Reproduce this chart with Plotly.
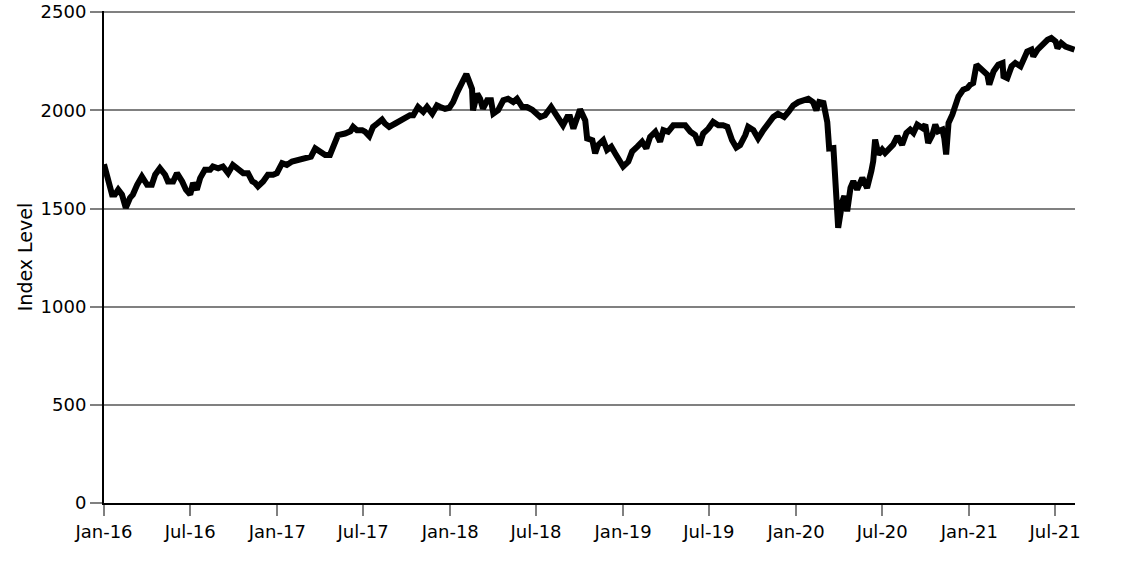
import plotly.graph_objects as go

dates = [
    "2016-01-01", "2016-01-09", "2016-01-18", "2016-01-24", "2016-01-31", "2016-02-08", "2016-02-16", "2016-02-25",
    "2016-03-02", "2016-03-11", "2016-03-21", "2016-04-01", "2016-04-11", "2016-04-18", "2016-04-28", "2016-05-09",
    "2016-05-15", "2016-05-26", "2016-06-03", "2016-06-14", "2016-06-22", "2016-07-01", "2016-07-07", "2016-07-15",
    "2016-07-22", "2016-08-01", "2016-08-12", "2016-08-18", "2016-08-29", "2016-09-08", "2016-09-19", "2016-09-29",
    "2016-10-10", "2016-10-21", "2016-10-31", "2016-11-09", "2016-11-15", "2016-11-21", "2016-12-02", "2016-12-12",
    "2016-12-23", "2016-12-31", "2017-01-11", "2017-01-21", "2017-02-01", "2017-02-12", "2017-02-22", "2017-03-05",
    "2017-03-13", "2017-03-22", "2017-04-01", "2017-04-12", "2017-04-22", "2017-04-29", "2017-05-09", "2017-05-24",
    "2017-06-04", "2017-06-10", "2017-06-18", "2017-06-29", "2017-07-05", "2017-07-14", "2017-07-22", "2017-07-31",
    "2017-08-10", "2017-08-16", "2017-08-25", "2017-09-07", "2017-09-17", "2017-09-28", "2017-10-08", "2017-10-15",
    "2017-10-25", "2017-11-05", "2017-11-13", "2017-11-24", "2017-12-04", "2017-12-11", "2017-12-21", "2017-12-30",
    "2018-01-07", "2018-01-16", "2018-01-26", "2018-02-04", "2018-02-08", "2018-02-16", "2018-02-18", "2018-02-27",
    "2018-03-05", "2018-03-11", "2018-03-20", "2018-03-28", "2018-04-02", "2018-04-12", "2018-04-23", "2018-05-03",
    "2018-05-14", "2018-05-22", "2018-06-02", "2018-06-12", "2018-06-23", "2018-07-03", "2018-07-10", "2018-07-20",
    "2018-08-02", "2018-08-11", "2018-08-19", "2018-08-27", "2018-09-05", "2018-09-11", "2018-09-18", "2018-09-26",
    "2018-10-02", "2018-10-13", "2018-10-17", "2018-10-28", "2018-11-03", "2018-11-09", "2018-11-20", "2018-11-28",
    "2018-12-07", "2018-12-15", "2018-12-24", "2019-01-01", "2019-01-12", "2019-01-20", "2019-01-31", "2019-02-10",
    "2019-02-19", "2019-02-27", "2019-03-10", "2019-03-20", "2019-03-27", "2019-04-06", "2019-04-17", "2019-04-27",
    "2019-05-12", "2019-05-23", "2019-06-02", "2019-06-11", "2019-06-19", "2019-06-30", "2019-07-10", "2019-07-21",
    "2019-07-31", "2019-08-09", "2019-08-19", "2019-08-28", "2019-09-05", "2019-09-16", "2019-09-22", "2019-10-03",
    "2019-10-13", "2019-10-24", "2019-11-03", "2019-11-14", "2019-11-24", "2019-12-07", "2019-12-16", "2019-12-26",
    "2020-01-06", "2020-01-16", "2020-01-27", "2020-02-06", "2020-02-13", "2020-02-19", "2020-02-28", "2020-03-07",
    "2020-03-11", "2020-03-20", "2020-03-24", "2020-03-30", "2020-04-08", "2020-04-12", "2020-04-18", "2020-04-25",
    "2020-05-01", "2020-05-09", "2020-05-20", "2020-05-30", "2020-06-08", "2020-06-12", "2020-06-16", "2020-06-23",
    "2020-07-01", "2020-07-07", "2020-07-14", "2020-07-24", "2020-08-02", "2020-08-12", "2020-08-21", "2020-08-29",
    "2020-09-05", "2020-09-13", "2020-09-24", "2020-09-30", "2020-10-06", "2020-10-15", "2020-10-21", "2020-10-27",
    "2020-11-05", "2020-11-09", "2020-11-13", "2020-11-18", "2020-11-26", "2020-12-02", "2020-12-09", "2020-12-19",
    "2020-12-28", "2021-01-03", "2021-01-09", "2021-01-16", "2021-01-20", "2021-01-30", "2021-02-08", "2021-02-12",
    "2021-02-21", "2021-03-03", "2021-03-12", "2021-03-14", "2021-03-22", "2021-03-31", "2021-04-08", "2021-04-19",
    "2021-04-25", "2021-05-03", "2021-05-12", "2021-05-16", "2021-05-25", "2021-06-04", "2021-06-15", "2021-06-23",
    "2021-07-02", "2021-07-06", "2021-07-14", "2021-07-23", "2021-08-02", "2021-08-11",
]

index_level = [
    1725, 1646, 1571, 1571, 1596, 1571, 1503, 1554,
    1571, 1621, 1663, 1621, 1621, 1672, 1705, 1672,
    1638, 1638, 1680, 1638, 1596, 1571, 1630, 1596,
    1655, 1697, 1697, 1714, 1705, 1714, 1680, 1722,
    1697, 1680, 1680, 1638, 1630, 1613, 1638, 1672,
    1672, 1680, 1731, 1722, 1739, 1747, 1751, 1756,
    1764, 1806, 1790, 1773, 1773, 1815, 1874, 1882,
    1893, 1916, 1899, 1899, 1891, 1869, 1916, 1933,
    1953, 1933, 1916, 1933, 1949, 1963, 1975, 1975,
    2017, 1992, 2017, 1983, 2025, 2017, 2008, 2013,
    2042, 2093, 2135, 2185, 2160, 2109, 2000, 2084,
    2059, 2008, 2051, 2051, 1983, 2000, 2051, 2059,
    2042, 2059, 2017, 2017, 2003, 1975, 1966, 1975,
    2017, 1983, 1949, 1924, 1966, 1966, 1907, 1975,
    2005, 1949, 1857, 1848, 1781, 1823, 1848, 1798,
    1815, 1781, 1747, 1714, 1739, 1790, 1815, 1840,
    1806, 1865, 1891, 1840, 1899, 1891, 1924, 1924,
    1924, 1891, 1874, 1823, 1882, 1907, 1941, 1924,
    1924, 1916, 1848, 1811, 1823, 1874, 1916, 1899,
    1857, 1899, 1933, 1966, 1983, 1966, 1992, 2025,
    2042, 2047, 2059, 2042, 2000, 2042, 2037, 1940,
    1806, 1808, 1622, 1402, 1537, 1563, 1486, 1605,
    1639, 1597, 1656, 1605, 1690, 1741, 1851, 1775,
    1800, 1783, 1800, 1825, 1868, 1825, 1885, 1902,
    1885, 1927, 1910, 1927, 1834, 1876, 1927, 1893,
    1902, 1859, 1775, 1936, 1978, 2029, 2071, 2105,
    2114, 2131, 2139, 2232, 2224, 2198, 2181, 2131,
    2198, 2232, 2241, 2173, 2164, 2224, 2241, 2224,
    2258, 2300, 2309, 2275, 2309, 2334, 2359, 2368,
    2351, 2317, 2343, 2325, 2317, 2309,
]

tick_dates = ["2016-01-01", "2016-07-01", "2017-01-01", "2017-07-01", "2018-01-01", "2018-07-01",
              "2019-01-01", "2019-07-01", "2020-01-01", "2020-07-01", "2021-01-01", "2021-07-01"]
tick_labels = ["Jan-16", "Jul-16", "Jan-17", "Jul-17", "Jan-18", "Jul-18",
               "Jan-19", "Jul-19", "Jan-20", "Jul-20", "Jan-21", "Jul-21"]
y_ticks = [0, 500, 1000, 1500, 2000, 2500]

fig = go.Figure()
fig.add_trace(go.Scatter(
    x=dates, y=index_level, mode="lines",
    line=dict(color="black", width=6),
    showlegend=False, hoverinfo="x+y",
))

font = dict(family="DejaVu Sans", size=18, color="black")
title_font = dict(family="DejaVu Sans", size=19, color="black")
fig.update_layout(
    width=1146, height=575,
    margin=dict(l=104, r=71, t=11, b=72),
    paper_bgcolor="white", plot_bgcolor="white",
    font=font,
    xaxis=dict(
        type="date",
        range=["2016-01-01", "2021-08-12"],
        tickmode="array", tickvals=tick_dates, ticktext=tick_labels,
        ticks="outside", ticklen=11, tickwidth=2, tickcolor="#808080",
        showline=True, linecolor="black", linewidth=2,
        showgrid=False, zeroline=False, automargin=False,
        tickfont=font, ticklabeloverflow="allow",
    ),
    yaxis=dict(
        range=[0, 2506],
        tickmode="array", tickvals=y_ticks,
        ticks="outside", ticklen=12, tickwidth=2, tickcolor="#808080",
        showline=True, linecolor="black", linewidth=2,
        showgrid=True, gridcolor="#808080", gridwidth=2,
        zeroline=False, automargin=False,
        tickfont=font, ticklabeloverflow="allow",
        title=dict(text="Index Level", font=title_font, standoff=3),
    ),
)

fig.write_html(
    "out.html",
    config={"displayModeBar": False},
    post_script="document.body.style.margin='0';document.body.style.overflow='hidden';",
)
